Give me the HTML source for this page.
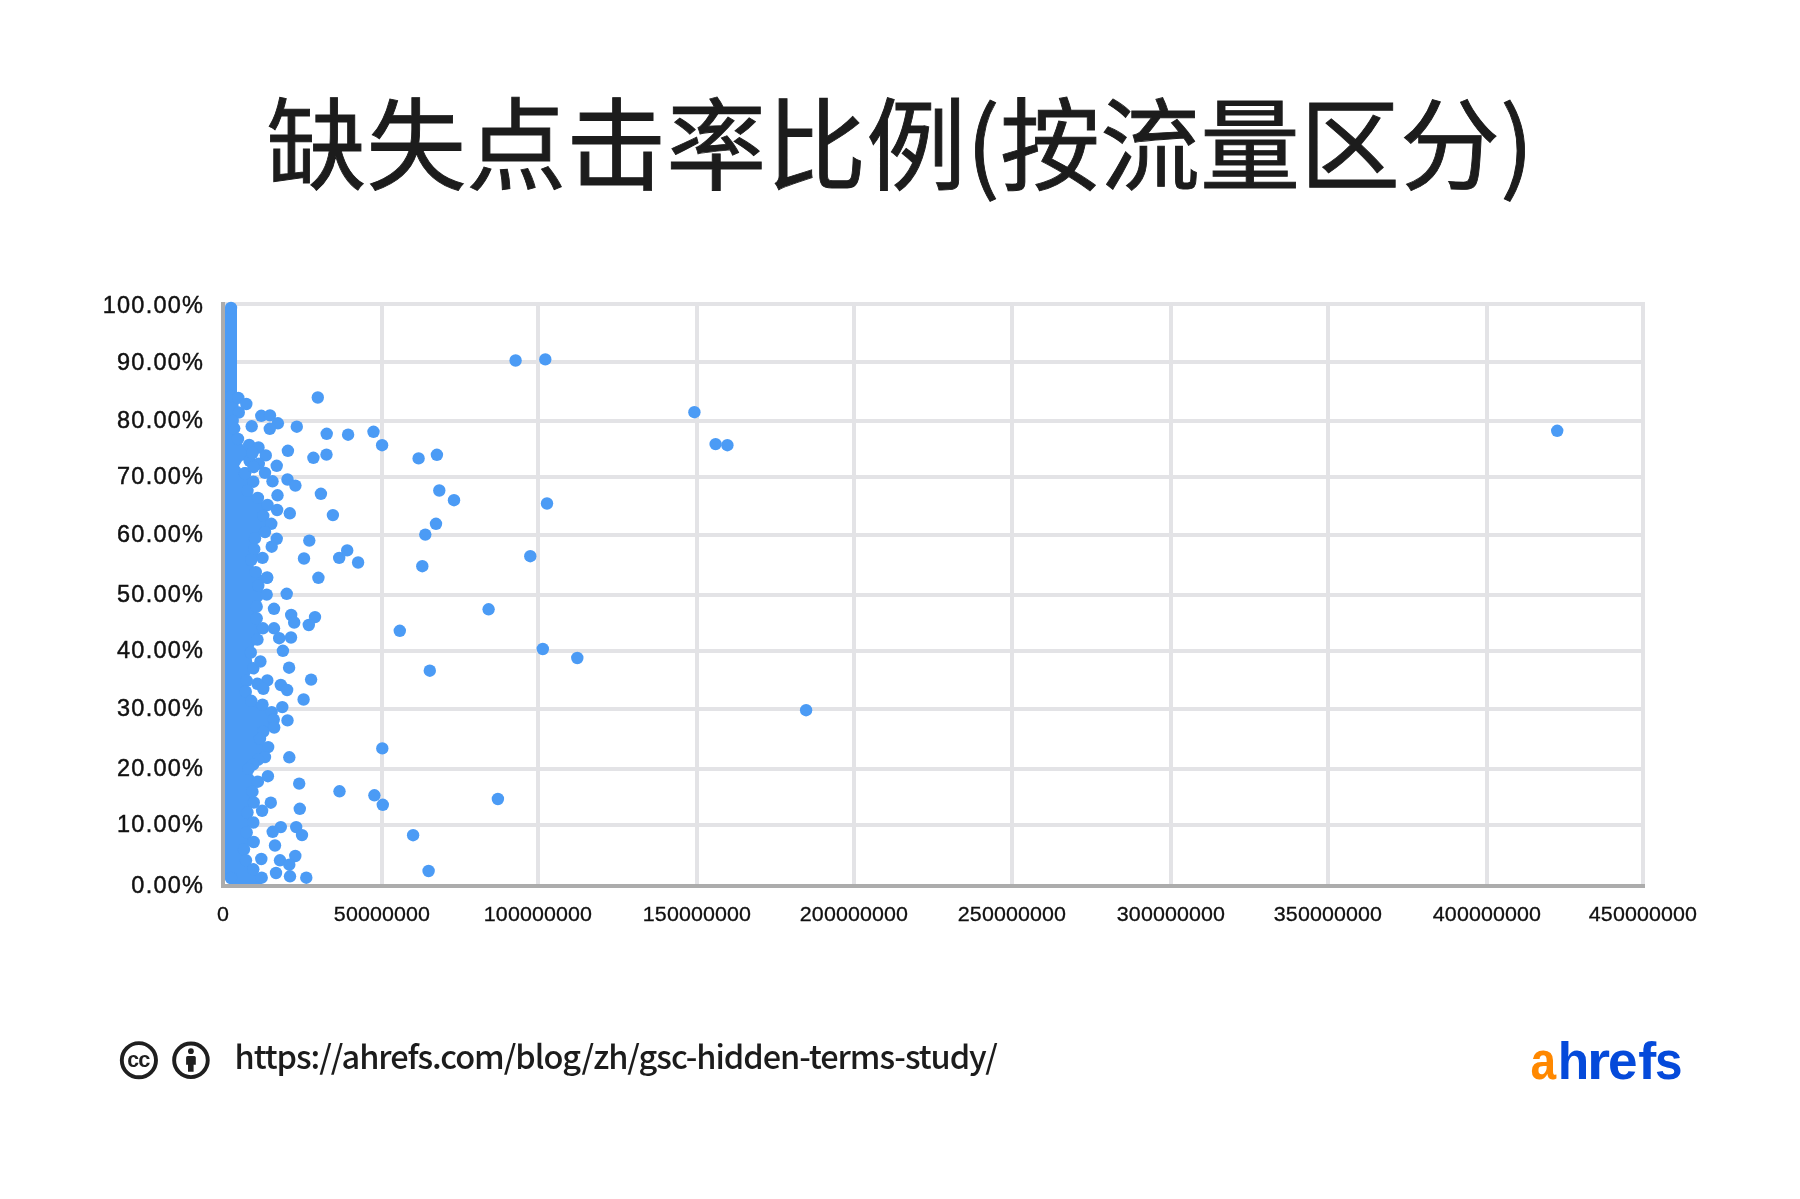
<!DOCTYPE html>
<html lang="zh-CN"><head><meta charset="utf-8">
<title>缺失点击率比例(按流量区分)</title>
<style>
html,body{margin:0;padding:0;background:#fff;}
body{width:1800px;height:1199px;position:relative;overflow:hidden;}
.gs{position:absolute;left:0;top:0;width:1800px;height:1199px;filter:grayscale(1);}
.title{position:absolute;left:0;top:69px;width:1800px;text-align:center;
 font-family:"Noto Sans CJK SC","Liberation Sans",sans-serif;font-weight:400;font-size:100px;
 line-height:140px;color:#1c1c1c;-webkit-text-stroke:0.9px #1c1c1c;white-space:nowrap;}
.yl{position:absolute;left:0;width:204.25px;text-align:right;height:28px;line-height:28px;
 font-family:"Liberation Sans",sans-serif;font-size:23.5px;letter-spacing:1.25px;color:#111;-webkit-text-stroke:0.45px #111;white-space:nowrap;}
.xl{position:absolute;top:902px;width:200px;text-align:center;height:24px;line-height:24px;
 font-family:"Liberation Sans",sans-serif;font-size:19.5px;letter-spacing:0.1px;color:#111;-webkit-text-stroke:0.3px #111;white-space:nowrap;transform:scaleX(1.1);}
svg.chart{position:absolute;left:0;top:0;}
.url{position:absolute;left:234.5px;top:1033px;height:44px;line-height:44px;
 font-family:"Noto Sans CJK SC","Liberation Sans",sans-serif;font-weight:500;font-size:32.5px;letter-spacing:-1.04px;color:#1c1c1c;white-space:nowrap;}
</style></head><body>
<div class="gs">
<div class="title">缺失点击率比例(按流量区分)</div>
</div>
<svg class="chart" width="1800" height="1199" viewBox="0 0 1800 1199">
<defs><clipPath id="pa"><rect x="225" y="296" width="1420" height="588"/></clipPath></defs>
<rect x="221" y="302" width="1424" height="4" fill="#e3e3e6"/>
<rect x="221" y="360" width="1424" height="4" fill="#e3e3e6"/>
<rect x="221" y="419" width="1424" height="4" fill="#e3e3e6"/>
<rect x="221" y="475" width="1424" height="4" fill="#e3e3e6"/>
<rect x="221" y="533" width="1424" height="4" fill="#e3e3e6"/>
<rect x="221" y="593" width="1424" height="4" fill="#e3e3e6"/>
<rect x="221" y="649" width="1424" height="4" fill="#e3e3e6"/>
<rect x="221" y="707" width="1424" height="4" fill="#e3e3e6"/>
<rect x="221" y="767" width="1424" height="4" fill="#e3e3e6"/>
<rect x="221" y="823" width="1424" height="4" fill="#e3e3e6"/>
<rect x="380" y="302" width="4" height="584" fill="#e3e3e6"/>
<rect x="536" y="302" width="4" height="584" fill="#e3e3e6"/>
<rect x="695" y="302" width="4" height="584" fill="#e3e3e6"/>
<rect x="852" y="302" width="4" height="584" fill="#e3e3e6"/>
<rect x="1010" y="302" width="4" height="584" fill="#e3e3e6"/>
<rect x="1169" y="302" width="4" height="584" fill="#e3e3e6"/>
<rect x="1326" y="302" width="4" height="584" fill="#e3e3e6"/>
<rect x="1485" y="302" width="4" height="584" fill="#e3e3e6"/>
<rect x="1641" y="302" width="4" height="584" fill="#e3e3e6"/>
<g fill="#4b9bf5" clip-path="url(#pa)">
<polygon points="225,308 231,308 231,396 238.3,397.9 238.8,412.5 234.2,428.3 238,439 245,447 252,452 252,455 248,458 242,461 239,466 242,470 245,473.3 253.3,481.7 247.5,490.8 257.9,497.9 267.5,505 263.3,515.8 271.3,523.8 265,532.1 255,538.3 254.2,549.2 262.5,557.9 251.3,560 255.8,572.1 267.1,577.9 258.3,585.8 266.7,594.6 256.7,606.7 256.7,618.3 262.9,628.3 257.5,639.6 250.8,652.5 253.3,668.3 246.7,680.8 245.8,691.7 251.2,700.8 262.5,704.6 271.7,712.1 273.8,719.6 274.2,727.5 263.3,731.7 260,738.8 268.2,747.1 265,757.1 257.9,759.8 253.2,764.3 248.6,768.9 257.9,781.7 252.5,791.7 253.8,802.5 247.5,812.5 253.3,822.5 246.7,832.5 253.7,842 244,849.3 246,860.3 253.3,869.3 261.7,877.7 261.7,884 231,884 225,878"/>
<rect x="225" y="308" width="12" height="570"/>
<circle cx="231" cy="308" r="6.2"/>
<circle cx="231" cy="396" r="6.2"/>
<circle cx="238.3" cy="397.9" r="6.2"/>
<circle cx="238.8" cy="412.5" r="6.2"/>
<circle cx="234.2" cy="428.3" r="6.2"/>
<circle cx="238" cy="439" r="6.2"/>
<circle cx="245" cy="473.3" r="6.2"/>
<circle cx="253.3" cy="481.7" r="6.2"/>
<circle cx="247.5" cy="490.8" r="6.2"/>
<circle cx="257.9" cy="497.9" r="6.2"/>
<circle cx="267.5" cy="505" r="6.2"/>
<circle cx="263.3" cy="515.8" r="6.2"/>
<circle cx="271.3" cy="523.8" r="6.2"/>
<circle cx="265" cy="532.1" r="6.2"/>
<circle cx="255" cy="538.3" r="6.2"/>
<circle cx="254.2" cy="549.2" r="6.2"/>
<circle cx="262.5" cy="557.9" r="6.2"/>
<circle cx="251.3" cy="560" r="6.2"/>
<circle cx="255.8" cy="572.1" r="6.2"/>
<circle cx="267.1" cy="577.9" r="6.2"/>
<circle cx="258.3" cy="585.8" r="6.2"/>
<circle cx="266.7" cy="594.6" r="6.2"/>
<circle cx="256.7" cy="606.7" r="6.2"/>
<circle cx="256.7" cy="618.3" r="6.2"/>
<circle cx="262.9" cy="628.3" r="6.2"/>
<circle cx="257.5" cy="639.6" r="6.2"/>
<circle cx="250.8" cy="652.5" r="6.2"/>
<circle cx="253.3" cy="668.3" r="6.2"/>
<circle cx="246.7" cy="680.8" r="6.2"/>
<circle cx="245.8" cy="691.7" r="6.2"/>
<circle cx="251.2" cy="700.8" r="6.2"/>
<circle cx="262.5" cy="704.6" r="6.2"/>
<circle cx="271.7" cy="712.1" r="6.2"/>
<circle cx="273.8" cy="719.6" r="6.2"/>
<circle cx="274.2" cy="727.5" r="6.2"/>
<circle cx="263.3" cy="731.7" r="6.2"/>
<circle cx="260" cy="738.8" r="6.2"/>
<circle cx="268.2" cy="747.1" r="6.2"/>
<circle cx="265" cy="757.1" r="6.2"/>
<circle cx="257.9" cy="759.8" r="6.2"/>
<circle cx="253.2" cy="764.3" r="6.2"/>
<circle cx="248.6" cy="768.9" r="6.2"/>
<circle cx="257.9" cy="781.7" r="6.2"/>
<circle cx="252.5" cy="791.7" r="6.2"/>
<circle cx="253.8" cy="802.5" r="6.2"/>
<circle cx="247.5" cy="812.5" r="6.2"/>
<circle cx="253.3" cy="822.5" r="6.2"/>
<circle cx="246.7" cy="832.5" r="6.2"/>
<circle cx="253.7" cy="842" r="6.2"/>
<circle cx="244" cy="849.3" r="6.2"/>
<circle cx="246" cy="860.3" r="6.2"/>
<circle cx="253.3" cy="869.3" r="6.2"/>
<circle cx="261.7" cy="877.7" r="6.2"/>
<circle cx="231" cy="878" r="6.2"/>
<circle cx="246.3" cy="404" r="6.2"/>
<circle cx="261.3" cy="415.8" r="6.2"/>
<circle cx="270" cy="415.4" r="6.2"/>
<circle cx="277.9" cy="423.3" r="6.2"/>
<circle cx="251.7" cy="426.3" r="6.2"/>
<circle cx="269.8" cy="428.8" r="6.2"/>
<circle cx="296.8" cy="426.7" r="6.2"/>
<circle cx="276.7" cy="465.8" r="6.2"/>
<circle cx="245" cy="473.3" r="6.2"/>
<circle cx="272.5" cy="481.3" r="6.2"/>
<circle cx="287.5" cy="479.5" r="6.2"/>
<circle cx="295.4" cy="485.6" r="6.2"/>
<circle cx="287.9" cy="450.8" r="6.2"/>
<circle cx="249.6" cy="460.8" r="6.2"/>
<circle cx="249.2" cy="445" r="6.2"/>
<circle cx="258.5" cy="447.5" r="6.2"/>
<circle cx="265.8" cy="455.4" r="6.2"/>
<circle cx="258.8" cy="463.8" r="6.2"/>
<circle cx="265" cy="472.9" r="6.2"/>
<circle cx="253.5" cy="467" r="6.2"/>
<circle cx="252.5" cy="453" r="6.2"/>
<circle cx="277.5" cy="495.3" r="6.2"/>
<circle cx="277.1" cy="510" r="6.2"/>
<circle cx="289.8" cy="513.3" r="6.2"/>
<circle cx="276.7" cy="538.8" r="6.2"/>
<circle cx="271.7" cy="546.7" r="6.2"/>
<circle cx="267.1" cy="577.5" r="6.2"/>
<circle cx="286.7" cy="593.8" r="6.2"/>
<circle cx="274" cy="608.8" r="6.2"/>
<circle cx="291.2" cy="615" r="6.2"/>
<circle cx="294.2" cy="622.5" r="6.2"/>
<circle cx="315" cy="617.1" r="6.2"/>
<circle cx="308.8" cy="625" r="6.2"/>
<circle cx="274" cy="628.3" r="6.2"/>
<circle cx="279.2" cy="638.2" r="6.2"/>
<circle cx="291" cy="637.5" r="6.2"/>
<circle cx="282.9" cy="650.8" r="6.2"/>
<circle cx="260.4" cy="661.5" r="6.2"/>
<circle cx="289.1" cy="667.7" r="6.2"/>
<circle cx="311.1" cy="679.6" r="6.2"/>
<circle cx="267.3" cy="680.4" r="6.2"/>
<circle cx="257.5" cy="683.8" r="6.2"/>
<circle cx="263.3" cy="688.8" r="6.2"/>
<circle cx="280.8" cy="685" r="6.2"/>
<circle cx="287.1" cy="690" r="6.2"/>
<circle cx="303.6" cy="699.5" r="6.2"/>
<circle cx="282.3" cy="707.1" r="6.2"/>
<circle cx="287.5" cy="720.4" r="6.2"/>
<circle cx="289.3" cy="757.3" r="6.2"/>
<circle cx="267.9" cy="776.2" r="6.2"/>
<circle cx="299.2" cy="783.6" r="6.2"/>
<circle cx="339.5" cy="791.3" r="6.2"/>
<circle cx="270.8" cy="802.7" r="6.2"/>
<circle cx="262.1" cy="810.8" r="6.2"/>
<circle cx="299.8" cy="808.8" r="6.2"/>
<circle cx="280.8" cy="827.1" r="6.2"/>
<circle cx="272.7" cy="831.8" r="6.2"/>
<circle cx="296.2" cy="827.1" r="6.2"/>
<circle cx="302" cy="835.1" r="6.2"/>
<circle cx="275" cy="845.5" r="6.2"/>
<circle cx="261.3" cy="859" r="6.2"/>
<circle cx="280" cy="860.3" r="6.2"/>
<circle cx="295.3" cy="856" r="6.2"/>
<circle cx="289.3" cy="864.7" r="6.2"/>
<circle cx="276" cy="873" r="6.2"/>
<circle cx="290" cy="876.3" r="6.2"/>
<circle cx="306.3" cy="877.7" r="6.2"/>
<circle cx="317.8" cy="397.5" r="6.2"/>
<circle cx="326.7" cy="433.8" r="6.2"/>
<circle cx="348.1" cy="434.7" r="6.2"/>
<circle cx="373.5" cy="431.8" r="6.2"/>
<circle cx="382.1" cy="445.2" r="6.2"/>
<circle cx="418.6" cy="458.4" r="6.2"/>
<circle cx="436.9" cy="454.8" r="6.2"/>
<circle cx="439.3" cy="490.5" r="6.2"/>
<circle cx="454" cy="500.2" r="6.2"/>
<circle cx="436" cy="523.8" r="6.2"/>
<circle cx="425.3" cy="534.6" r="6.2"/>
<circle cx="313.4" cy="457.8" r="6.2"/>
<circle cx="326.5" cy="454.6" r="6.2"/>
<circle cx="320.9" cy="493.8" r="6.2"/>
<circle cx="332.9" cy="515.1" r="6.2"/>
<circle cx="309.3" cy="540.6" r="6.2"/>
<circle cx="515.6" cy="360.5" r="6.2"/>
<circle cx="545.3" cy="359.4" r="6.2"/>
<circle cx="547" cy="503.5" r="6.2"/>
<circle cx="304" cy="558.5" r="6.2"/>
<circle cx="339.2" cy="557.9" r="6.2"/>
<circle cx="347.2" cy="550.4" r="6.2"/>
<circle cx="358.1" cy="562.5" r="6.2"/>
<circle cx="422.3" cy="566.2" r="6.2"/>
<circle cx="530.3" cy="556.2" r="6.2"/>
<circle cx="318.4" cy="577.8" r="6.2"/>
<circle cx="488.6" cy="609.3" r="6.2"/>
<circle cx="399.8" cy="630.8" r="6.2"/>
<circle cx="542.8" cy="649" r="6.2"/>
<circle cx="577.3" cy="658" r="6.2"/>
<circle cx="429.8" cy="670.7" r="6.2"/>
<circle cx="382.3" cy="748.4" r="6.2"/>
<circle cx="374.4" cy="795.3" r="6.2"/>
<circle cx="382.8" cy="804.8" r="6.2"/>
<circle cx="497.9" cy="799" r="6.2"/>
<circle cx="413.1" cy="835.2" r="6.2"/>
<circle cx="428.6" cy="871" r="6.2"/>
<circle cx="694.4" cy="412.2" r="6.2"/>
<circle cx="715.6" cy="444.1" r="6.2"/>
<circle cx="727.4" cy="445.2" r="6.2"/>
<circle cx="806.1" cy="710.2" r="6.2"/>
<circle cx="1557.2" cy="430.8" r="6.2"/>
<circle cx="232.7" cy="421" r="6.2"/>
</g>
<rect x="221" y="302" width="4" height="586" fill="#acacac"/>
<rect x="221" y="884" width="1424" height="4" fill="#acacac"/>
<text transform="matrix(0.4604 0 0 0.5418 1530.52 1079.16)" font-family="Liberation Sans, sans-serif" font-weight="700" font-size="100" fill="#ff8800">a</text>
<text transform="matrix(0.5146 0 0 0.5151 1557.80 1078.80)" font-family="Liberation Sans, sans-serif" font-weight="700" font-size="100" fill="#054ada">h</text>
<text transform="matrix(0.5933 0 0 0.5333 1587.05 1078.80)" font-family="Liberation Sans, sans-serif" font-weight="700" font-size="100" fill="#054ada">r</text>
<text transform="matrix(0.5312 0 0 0.5455 1608.12 1078.95)" font-family="Liberation Sans, sans-serif" font-weight="700" font-size="100" fill="#054ada">e</text>
<text transform="matrix(0.5403 0 0 0.5137 1638.17 1078.75)" font-family="Liberation Sans, sans-serif" font-weight="700" font-size="100" fill="#054ada">f</text>
<text transform="matrix(0.4947 0 0 0.5455 1655.02 1078.95)" font-family="Liberation Sans, sans-serif" font-weight="700" font-size="100" fill="#054ada">s</text>
</svg>
<div class="gs">
<div class="yl" style="top:291.0px">100.00%</div>
<div class="yl" style="top:348.0px">90.00%</div>
<div class="yl" style="top:406.0px">80.00%</div>
<div class="yl" style="top:462.2px">70.00%</div>
<div class="yl" style="top:520.2px">60.00%</div>
<div class="yl" style="top:580.2px">50.00%</div>
<div class="yl" style="top:636.2px">40.00%</div>
<div class="yl" style="top:694.1px">30.00%</div>
<div class="yl" style="top:753.9px">20.00%</div>
<div class="yl" style="top:809.8px">10.00%</div>
<div class="yl" style="top:870.8px">0.00%</div>
<div class="xl" style="left:123.05px">0</div>
<div class="xl" style="left:282.05px">50000000</div>
<div class="xl" style="left:438.05px">100000000</div>
<div class="xl" style="left:597.05px">150000000</div>
<div class="xl" style="left:754.05px">200000000</div>
<div class="xl" style="left:912.05px">250000000</div>
<div class="xl" style="left:1071.05px">300000000</div>
<div class="xl" style="left:1228.05px">350000000</div>
<div class="xl" style="left:1387.05px">400000000</div>
<div class="xl" style="left:1543.05px">450000000</div>
<div class="url">https://ahrefs.com/blog/zh/gsc-hidden-terms-study/</div>
<svg class="icons" width="1800" height="1199" viewBox="0 0 1800 1199" style="position:absolute;left:0;top:0">
<g fill="none" stroke="#1f1f1f" stroke-width="3.9">
<circle cx="138.9" cy="1060.2" r="17.1"/>
<circle cx="190.95" cy="1060.3" r="16.8"/>
</g>
<g fill="#1f1f1f">
<circle cx="190.9" cy="1051.2" r="2.9"/>
<path d="M187.6 1056.1h6.7a1.5 1.5 0 0 1 1.5 1.5v7.1h-2.2v7h-5.6v-7h-1.9v-7.1a1.5 1.5 0 0 1 1.5-1.5z"/>
</g>
<text transform="matrix(0.2122 0 0 0.2236 127.15 1067.08)" font-family="Liberation Sans, sans-serif" font-weight="700" font-size="100" fill="#1f1f1f">c</text>
<text transform="matrix(0.2184 0 0 0.2236 138.13 1067.08)" font-family="Liberation Sans, sans-serif" font-weight="700" font-size="100" fill="#1f1f1f">c</text>
</svg>
</div>
</body></html>
